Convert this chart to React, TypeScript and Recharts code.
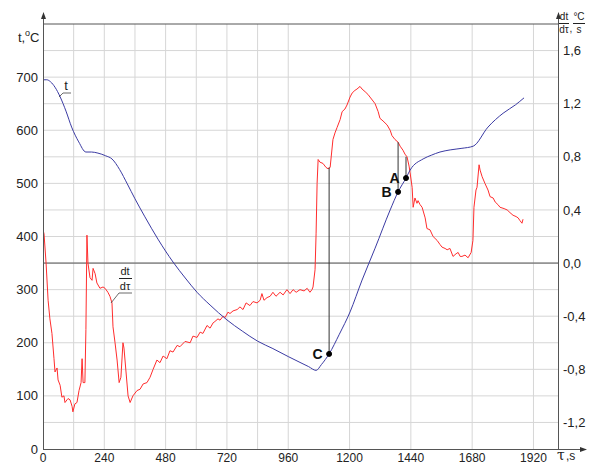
import { ComposedChart, Line, XAxis, YAxis, CartesianGrid, ReferenceLine, ReferenceDot } from 'recharts';

// temperature curve t(τ), °C
const tauT = [0, 15, 30, 47, 67, 90, 112, 140, 168, 190, 215, 245, 270, 300, 330, 360, 399, 450, 509, 560, 603, 654, 720, 780, 840, 900, 960, 1006, 1040, 1069, 1090, 1120, 1160, 1202, 1249, 1300, 1359, 1390, 1421, 1437, 1488, 1520, 1554, 1594, 1640, 1684, 1742, 1801, 1850, 1883];
const tVals = [695, 695, 691, 681, 663, 636, 606, 578, 559, 559, 557, 552, 546, 526, 499, 471, 437, 395, 352, 320, 295, 271, 243, 222, 203, 189, 174, 163, 155, 148, 159, 179, 216, 258, 318, 378, 450, 484, 510, 525, 546, 553, 559, 563, 566, 570, 606, 632, 648, 661];

// cooling rate dt/dτ, °C/s
const tauRate = [0, 4, 12, 20, 27, 35, 43, 47, 55, 59, 67, 74, 82, 86, 94, 98, 106, 114, 117, 125, 133, 141, 149, 153, 157, 164, 168, 172, 176, 184, 192, 196, 204, 211, 223, 235, 243, 254, 262, 270, 274, 282, 290, 298, 305, 313, 317, 325, 333, 341, 352, 368, 380, 392, 407, 419, 431, 446, 458, 470, 485, 497, 509, 525, 536, 556, 576, 587, 603, 615, 626, 642, 654, 666, 673, 685, 693, 705, 713, 724, 732, 744, 760, 771, 783, 795, 810, 822, 838, 850, 857, 865, 877, 889, 900, 912, 928, 940, 955, 967, 979, 991, 1006, 1022, 1034, 1045, 1053, 1057, 1065, 1069, 1073, 1077, 1084, 1096, 1108, 1116, 1124, 1135, 1143, 1151, 1163, 1171, 1182, 1190, 1202, 1210, 1221, 1229, 1241, 1249, 1261, 1272, 1280, 1292, 1300, 1312, 1319, 1331, 1347, 1359, 1366, 1378, 1390, 1398, 1409, 1417, 1425, 1433, 1437, 1445, 1449, 1456, 1464, 1468, 1476, 1484, 1496, 1503, 1515, 1527, 1543, 1554, 1562, 1574, 1582, 1593, 1605, 1617, 1625, 1633, 1640, 1652, 1664, 1676, 1683, 1687, 1695, 1699, 1707, 1711, 1719, 1730, 1742, 1750, 1762, 1770, 1781, 1789, 1805, 1817, 1828, 1840, 1852, 1860, 1867, 1875, 1879];
const rateVals = [0.25, 0.22, 0.0, -0.28, -0.42, -0.53, -0.72, -0.82, -0.79, -0.88, -0.92, -1.01, -1.0, -1.05, -1.03, -1.02, -1.03, -1.08, -1.12, -1.06, -1.05, -0.96, -0.9, -0.72, -0.9, -0.9, -0.5, 0.21, 0.0, -0.11, -0.13, -0.04, -0.08, -0.15, -0.19, -0.18, -0.19, -0.22, -0.25, -0.3, -0.48, -0.6, -0.73, -0.9, -0.86, -0.6, -0.64, -0.82, -1.0, -1.05, -1.0, -0.96, -0.95, -0.91, -0.9, -0.86, -0.8, -0.73, -0.75, -0.7, -0.72, -0.66, -0.67, -0.62, -0.63, -0.59, -0.6, -0.55, -0.56, -0.52, -0.53, -0.47, -0.49, -0.45, -0.44, -0.42, -0.43, -0.4, -0.41, -0.37, -0.38, -0.36, -0.35, -0.33, -0.35, -0.3, -0.32, -0.29, -0.3, -0.28, -0.23, -0.28, -0.26, -0.25, -0.22, -0.25, -0.22, -0.24, -0.2, -0.23, -0.2, -0.22, -0.2, -0.21, -0.19, -0.22, -0.2, -0.18, -0.05, 0.22, 0.6, 0.78, 0.76, 0.75, 0.72, 0.71, 0.72, 0.93, 0.98, 1.02, 1.08, 1.14, 1.16, 1.19, 1.25, 1.28, 1.3, 1.31, 1.33, 1.31, 1.29, 1.27, 1.25, 1.22, 1.2, 1.14, 1.09, 1.07, 1.04, 1.0, 0.96, 0.93, 0.91, 0.88, 0.85, 0.82, 0.8, 0.73, 0.68, 0.57, 0.42, 0.49, 0.45, 0.47, 0.44, 0.42, 0.34, 0.26, 0.25, 0.2, 0.17, 0.14, 0.12, 0.11, 0.1, 0.11, 0.05, 0.07, 0.08, 0.05, 0.05, 0.06, 0.04, 0.08, 0.17, 0.42, 0.55, 0.57, 0.74, 0.7, 0.65, 0.6, 0.55, 0.5, 0.49, 0.46, 0.44, 0.42, 0.41, 0.4, 0.38, 0.36, 0.35, 0.34, 0.32, 0.3, 0.33];

// marked points: τ, t on the curve, dt/dτ above it
const markNames = ['C', 'B', 'A'];
const markTau = [1120, 1390, 1421];
const markT = [179, 484, 510];
const markRate = [0.72, 0.91, 0.8];

const xTicks = [0, 240, 480, 720, 960, 1200, 1440, 1680, 1920];
const xGrid = [120, 240, 360, 480, 600, 720, 840, 960, 1080, 1200, 1320, 1440, 1560, 1680, 1800, 1920];
const tTicks = [0, 100, 200, 300, 400, 500, 600, 700];
const tGrid = [50, 100, 150, 200, 250, 300, 350, 400, 450, 500, 550, 600, 650, 700, 750];
const rateTicks = [-1.2, -0.8, -0.4, 0, 0.4, 0.8, 1.2, 1.6];

const T_DOMAIN = [0, 800];
const R_DOMAIN = [-1.4, 1.8];
// rate value expressed in the left axis units (both axes share the plot height)
const rateToT = (v: number) => ((v - R_DOMAIN[0]) / (R_DOMAIN[1] - R_DOMAIN[0])) * (T_DOMAIN[1] - T_DOMAIN[0]);

const tRows = tauT.map((tau, i) => ({ tau, t: tVals[i] }));
const rateRows = tauRate.map((tau, i) => ({ tau, r: rateVals[i] }));

const FONT = '"Liberation Sans", Arial, sans-serif';
const AXIS = '#555';
const tickStyle = { fontSize: 13, fill: '#222', fontFamily: FONT };

export default function App() {
  return (
    <div style={{ position: 'absolute', left: 0, top: 0, width: 593, height: 465, background: '#fff' }}>
      <ComposedChart width={593} height={465} margin={{ top: 24, right: 0, bottom: 0, left: 0 }}>
        <CartesianGrid
          yAxisId="t"
          stroke="#d6d6d6"
          strokeDasharray=""
          verticalValues={xGrid}
          horizontalValues={tGrid}
        />
        <XAxis
          dataKey="tau"
          type="number"
          domain={[0, 2016]}
          ticks={xTicks}
          allowDataOverflow
          height={16}
          tickSize={0}
          tickMargin={4}
          axisLine={false}
          tick={{ ...tickStyle, fontSize: 12 }}
        />
        <YAxis
          yAxisId="t"
          domain={T_DOMAIN}
          ticks={tTicks}
          width={43}
          tickSize={0}
          tickMargin={5}
          axisLine={false}
          tick={tickStyle}
          allowDataOverflow
        />
        <YAxis
          yAxisId="r"
          orientation="right"
          domain={R_DOMAIN}
          ticks={rateTicks}
          width={35}
          tickSize={0}
          tickMargin={5}
          axisLine={false}
          tick={tickStyle}
          tickFormatter={(v: number) => v.toFixed(1).replace('.', ',')}
          allowDataOverflow
        />
        <ReferenceLine yAxisId="t" y={800} stroke={AXIS} strokeWidth={1} />
        <ReferenceLine yAxisId="r" y={0} stroke={AXIS} strokeWidth={1} />
        <Line
          data={rateRows}
          yAxisId="r"
          dataKey="r"
          type="linear"
          stroke="#ff2d2d"
          strokeWidth={1}
          dot={false}
          isAnimationActive={false}
        />
        <Line
          data={tRows}
          yAxisId="t"
          dataKey="t"
          type="monotone"
          stroke="#3b3ba3"
          strokeWidth={1}
          dot={false}
          isAnimationActive={false}
        />
        {markNames.map((name, i) => (
          <ReferenceLine
            key={'l' + name}
            yAxisId="t"
            segment={[
              { x: markTau[i], y: markT[i] },
              { x: markTau[i], y: rateToT(markRate[i]) },
            ]}
            stroke="#333"
            strokeWidth={1}
          />
        ))}
        {markNames.map((name, i) => (
          <ReferenceDot
            key={'d' + name}
            yAxisId="t"
            x={markTau[i]}
            y={markT[i]}
            r={2.5}
            fill="#000"
            stroke="#000"
            label={{ value: name, position: 'left', offset: 4, fill: '#111', fontSize: 14, fontWeight: 'bold', fontFamily: FONT }}
          />
        ))}
      </ComposedChart>

      <svg width={593} height={465} style={{ position: 'absolute', left: 0, top: 0, pointerEvents: 'none' }}>
        <g stroke={AXIS} strokeWidth={1} fill="none">
          <line x1={43.5} y1={449} x2={43.5} y2={17} />
          <line x1={558.5} y1={449} x2={558.5} y2={17} />
          <line x1={43} y1={449.5} x2={582} y2={449.5} />
        </g>
        <g fill="#333">
          <polygon points="43.5,12 41,19 46,19" />
          <polygon points="558.5,12 556,19 561,19" />
          <polygon points="587,449.5 580,447 580,452" />
        </g>

        <g fontFamily={FONT} fill="#222">
          <text x={18} y={42} fontSize={13}>t,</text>
          <text x={25} y={36} fontSize={9}>o</text>
          <text x={30} y={42} fontSize={13}>C</text>

          <text x={564} y={20} fontSize={10} textAnchor="middle">dt</text>
          <line x1={559} y1={23.5} x2={569} y2={23.5} stroke="#222" />
          <text x={564} y={33} fontSize={10} textAnchor="middle">dτ</text>
          <text x={569.5} y={32} fontSize={10}>,</text>
          <text x={579} y={20} fontSize={10} textAnchor="middle">°C</text>
          <line x1={573} y1={23.5} x2={585} y2={23.5} stroke="#222" />
          <text x={579} y={33} fontSize={10} textAnchor="middle">s</text>

          <text x={557} y={460} fontSize={14} fontFamily="'DejaVu Serif', serif">τ</text>
          <text x={566} y={460} fontSize={12}>,s</text>

          <text x={66} y={90} fontSize={13} textAnchor="middle">t</text>
          <text x={125} y={275} fontSize={11} textAnchor="middle">dt</text>
          <line x1={119} y1={278.5} x2={132} y2={278.5} stroke="#222" />
          <text x={125} y={290} fontSize={11} textAnchor="middle">dτ</text>
        </g>
        <g stroke="#444" strokeWidth={0.8} fill="none">
          <polyline points="59,97 63,93 71,93" />
          <polyline points="111,303 119,293 132,293" />
        </g>
      </svg>
    </div>
  );
}
